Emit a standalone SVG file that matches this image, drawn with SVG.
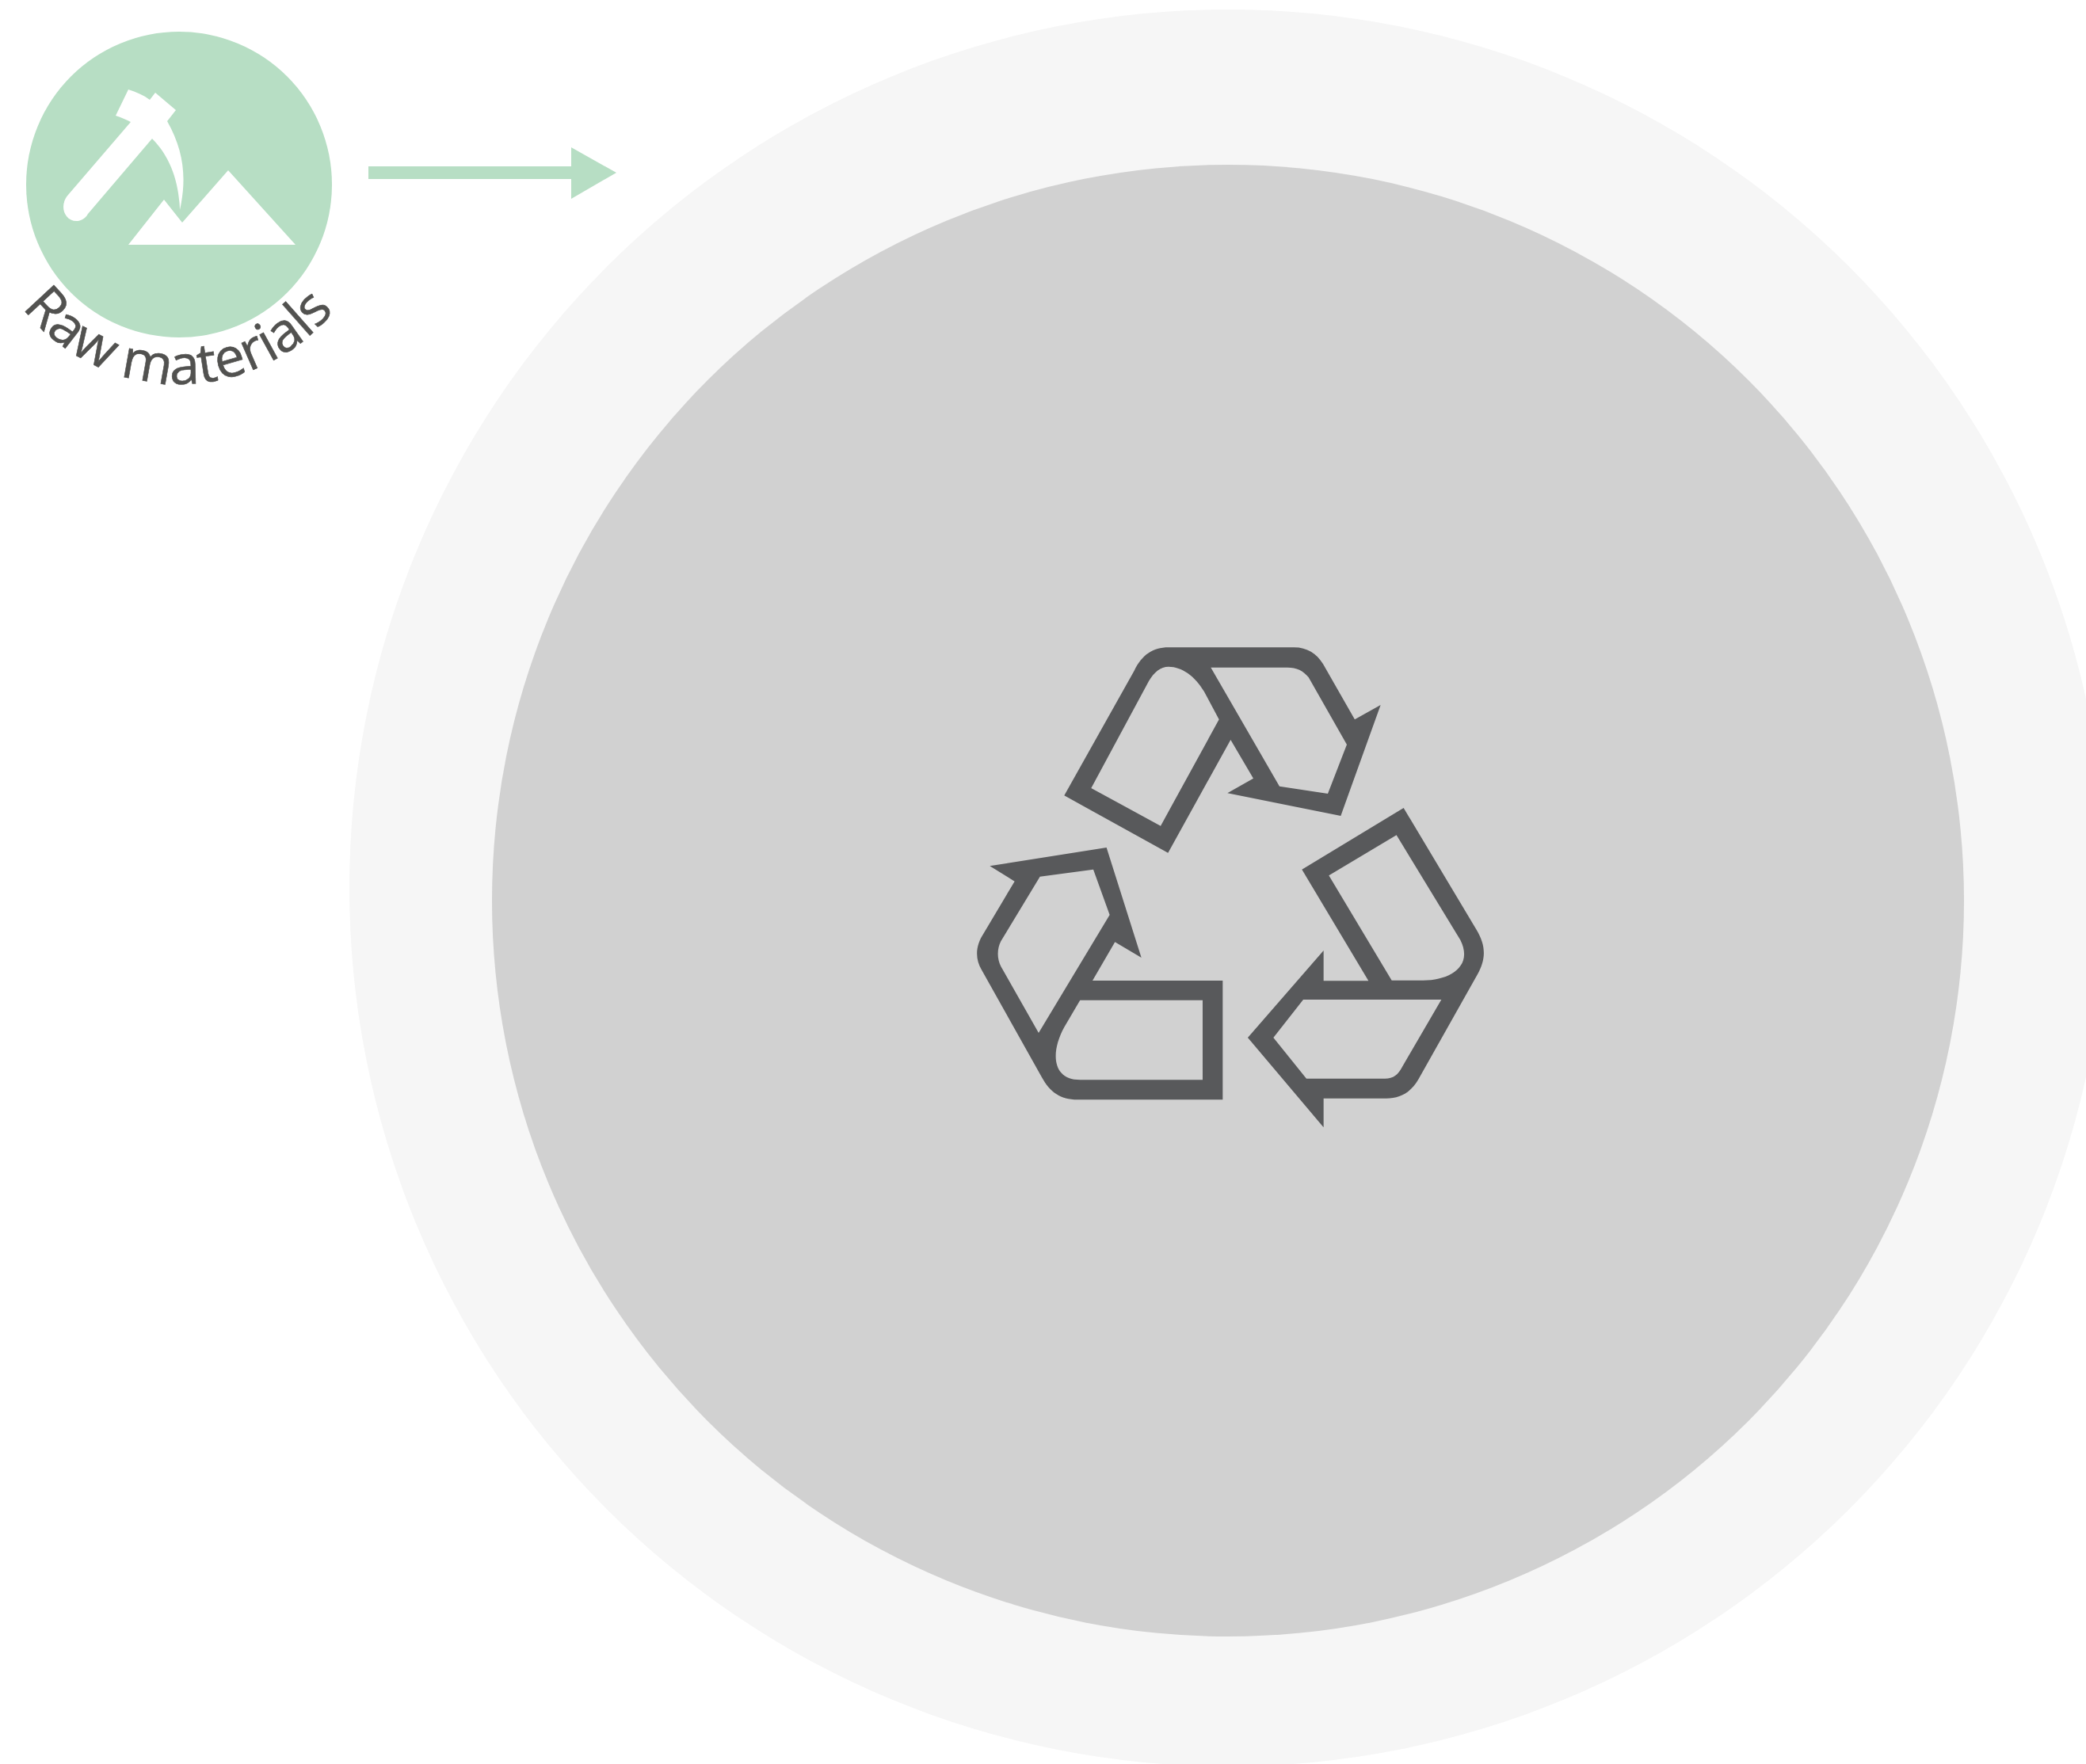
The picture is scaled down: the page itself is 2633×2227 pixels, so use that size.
<svg xmlns="http://www.w3.org/2000/svg" width="2633" height="2227" viewBox="0 0 2633 2227">
<style>
.green{fill:#b7dec4}
.white{fill:#fff}
.icon{fill:#58595b;fill-rule:evenodd}
.label{font-family:"Open Sans","Noto Sans",sans-serif;font-size:69px;fill:#525250;stroke:#525250;stroke-width:.6px}
</style>
<defs>
<path id="labelArc" d="M28 388A252 252 0 0 0 444 360"/>
</defs>
<rect width="2633" height="2227" fill="#fff"/>
<g id="outer-ring"><circle cx="1550" cy="1121" r="1109" fill="#f6f6f6"/></g>
<g id="inner-disc"><circle cx="1550" cy="1137" r="929" fill="#d1d1d1"/></g>
<g id="raw-materials">
<circle class="green" cx="226" cy="233" r="193"/>
<path class="white" d="M162 113C172 116 181 120 189 126L196 117L222 139L211 153C232 190 236 225 227 265C226 230 215 198 192 175L111 270C105 281 91 282 84 273C78 265 79 254 86 246L165 154C159 151 153 148 146 146Z"/>
<path class="white" d="M162 309L207 252L230 281L288 215L373 309Z"/>
<text class="label"><textPath href="#labelArc">Raw materials</textPath></text>
</g>
<g id="recycling-icon">
<path class="icon" transform="translate(1300 790) scale(.33333)" d="M130 643L395 170C425 110 465 82 525 82L1000 82C1050 82 1085 105 1110 145L1230 355L1328 300L1177 720L748 634L846 578L760 432L523 860ZM232 615L495 758L716 355L660 250C625 190 575 155 525 155C495 155 470 175 450 210ZM685 158L945 608L1128 636L1200 450L1055 195C1035 170 1010 158 975 158Z"/>
<path class="icon" transform="translate(1200 1040) scale(.33333)" d="M148 160L590 90L722 507L622 448L537 594L1030 594L1030 1045L480 1045C415 1045 375 1015 345 960L118 555C90 510 95 460 125 415L242 218ZM338 200L190 445C175 475 175 510 190 540L333 792L602 345L540 173ZM490 668L430 770C380 860 380 970 490 970L954 970L954 668Z"/>
<path class="icon" transform="translate(1560 1000) scale(.33333)" d="M635 60L910 520C950 585 945 635 915 690L690 1090C660 1140 620 1160 570 1160L332 1160L332 1270L45 930L332 600L332 715L502 715L250 293ZM608 163L352 316L590 713L710 713C810 713 900 660 850 560ZM255 786L142 930L267 1085L565 1085C595 1085 615 1070 630 1040L778 786Z"/>
</g>
<g id="connectors">
<path class="green" d="M465 210H721V186L778 218L721 251V226H465Z"/>
</g>
</svg>
